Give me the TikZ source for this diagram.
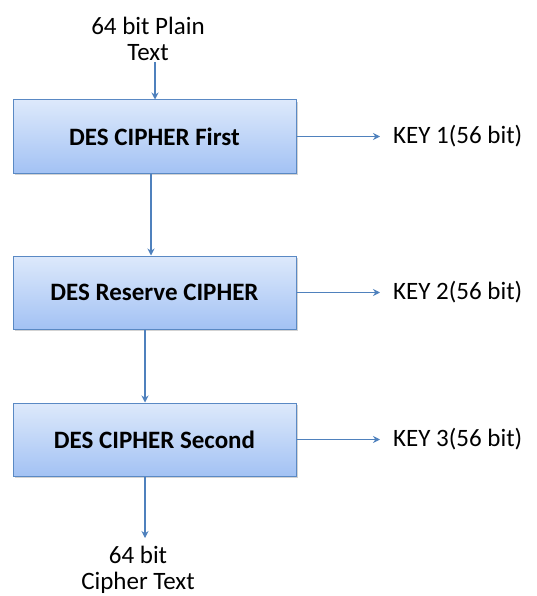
\documentclass[tikz,border=0pt]{standalone}
\usepackage{fontspec}
\setmainfont{Carlito}
\usetikzlibrary{arrows.meta,shadows}
\definecolor{boxtop}{HTML}{DDE9FB}
\definecolor{boxbot}{HTML}{A3C2F4}
\definecolor{boxline}{HTML}{5A89C4}
\definecolor{flow}{HTML}{4F81BD}
\tikzset{
  stage/.style={draw=boxline, line width=1pt, top color=boxtop, bottom color=boxbot,
    minimum width=283pt, minimum height=73pt, inner sep=0pt,
    font=\fontsize{25}{27}\selectfont\bfseries,
    drop shadow={shadow xshift=1.5pt, shadow yshift=-2pt, opacity=0.35, fill=gray}},
  label/.style={font=\fontsize{25}{26}\selectfont, align=center, inner sep=0pt},
  keylabel/.style={font=\fontsize{25}{27}\selectfont, anchor=west, inner sep=0pt},
  flowline/.style={draw=flow, line width=1.1pt, -{Stealth[length=7pt,width=7pt]}}
}
\begin{document}
\begin{tikzpicture}[x=1pt,y=-1pt]
\useasboundingbox (0,0) rectangle (537,596);
% three DES stages
\node[stage] (s1) at (154.5,136.5) {DES CIPHER First};
\node[stage] (s2) at (154.5,292.5) {DES Reserve CIPHER};
\node[stage] (s3) at (154.5,439.5) {DES CIPHER Second};
% input and output
\node[label] (pt) at (148,39) {64 bit Plain\\Text};
\node[label] (ct) at (138,570) {64 bit\\Cipher Text};
% keys
\node[keylabel] (k1) at (393,136.5) {KEY 1(56 bit)};
\node[keylabel] (k2) at (393,292.5) {KEY 2(56 bit)};
\node[keylabel] (k3) at (393,439.5) {KEY 3(56 bit)};
\coordinate (a1) at (380,136.5);
\coordinate (a2) at (380,292.5);
\coordinate (a3) at (380,439.5);
\coordinate (ptin) at (155,62);
\coordinate (ctout) at (145,538);
% connectors
\draw[flowline] (ptin) -- (ptin |- s1.north);
\draw[flowline] (s1.south -| 151,0) -- (s2.north -| 151,0);
\draw[flowline] (s2.south -| 145,0) -- (s3.north -| 145,0);
\draw[flowline] (s3.south -| ctout) -- (ctout);
\draw[flowline] (s1.east) -- (a1);
\draw[flowline] (s2.east) -- (a2);
\draw[flowline] (s3.east) -- (a3);
\end{tikzpicture}
\end{document}
